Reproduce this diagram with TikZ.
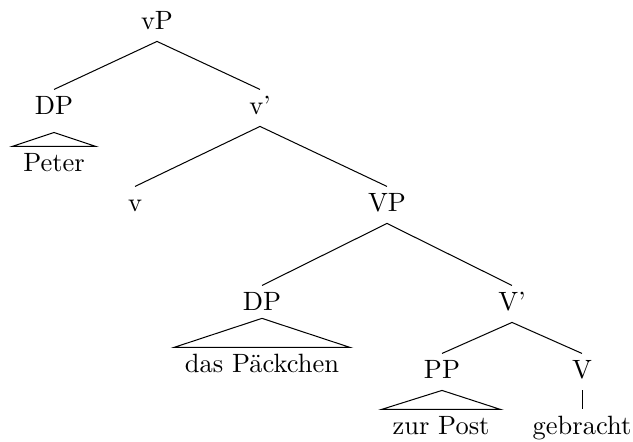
\documentclass[tikz,border=0pt]{standalone}
\usepackage{fontspec}
\setmainfont{Latin Modern Roman}
\begin{document}
\begin{tikzpicture}[x=0.395pt,y=-0.395pt,
  font=\fontsize{10.45pt}{12.5pt}\selectfont,
  lab/.style={anchor=base,inner xsep=4.2pt,inner ysep=0pt,text height=9.5pt,text depth=4.7pt}]
\useasboundingbox (0,0) rectangle (633,441);
% labels
\node[lab] (vP)  at (157,29)  {vP};
\node[lab] (DPa) at (54,114)  {DP};
\node[lab] (vb)  at (260,114) {v’};
\node[lab] (Peter) at (54,171) {Peter};
\node[lab] (v)   at (135,211) {v};
\node[lab] (VP)  at (387,211) {VP};
\node[lab] (DPb) at (262,310) {DP};
\node[lab] (Vb)  at (512,310) {V’};
\node[lab] (dasP) at (262,372) {das Päckchen};
\node[lab] (PP)  at (442,378) {PP};
\node[lab] (V)   at (582,378) {V};
\node[lab] (zurP) at (441,434) {zur Post};
\node[lab] (gebr) at (582,434) {gebracht};
% edges
\draw (vP.south) -- (DPa.north);
\draw (vP.south) -- (vb.north);
\draw (vb.south) -- (v.north);
\draw (vb.south) -- (VP.north);
\draw (VP.south) -- (DPb.north);
\draw (VP.south) -- (Vb.north);
\draw (Vb.south) -- (PP.north);
\draw (Vb.south) -- (V.north);
\draw (V.south) -- (gebr.north);
% triangles
\draw ([yshift=-2.4pt]DPa.south) -- (Peter.north west) -- (Peter.north east) -- cycle;
\draw ([yshift=1.6pt]DPb.south) -- (dasP.north west) -- (dasP.north east) -- cycle;
\draw (PP.south) -- (zurP.north west) -- (zurP.north east) -- cycle;
\end{tikzpicture}
\end{document}
